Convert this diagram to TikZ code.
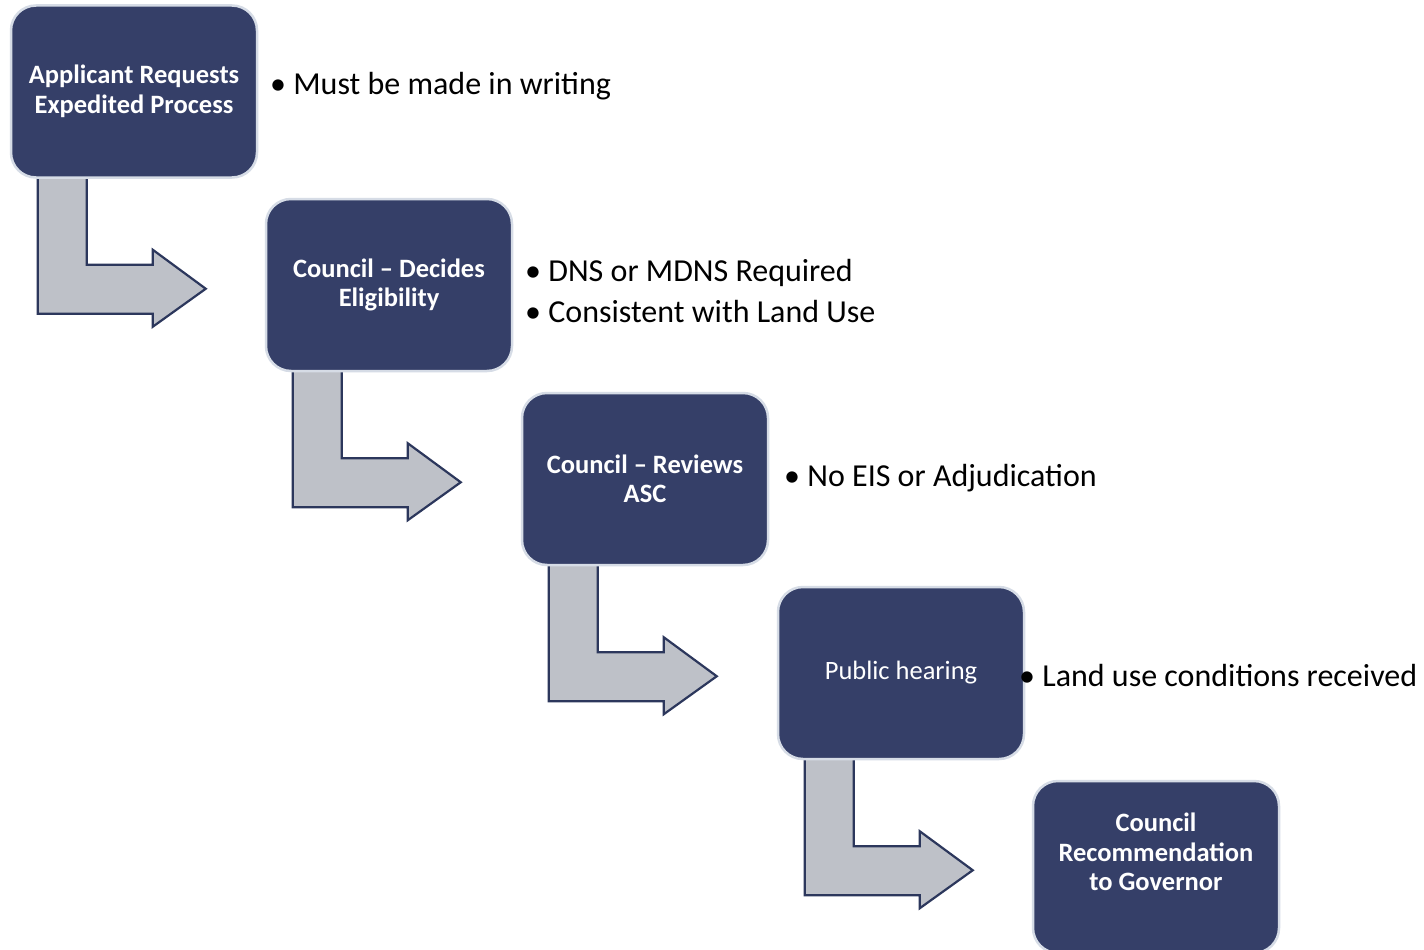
\documentclass[tikz,border=0pt]{standalone}
\usepackage{fontspec}
\setmainfont{Carlito}
\definecolor{boxfill}{HTML}{353F68}
\definecolor{boxedge}{HTML}{D6DCE6}
\definecolor{arrfill}{HTML}{BEC1C8}
\definecolor{arredge}{HTML}{2C375C}
\pgfdeclarelayer{bg}
\pgfsetlayers{bg,main}
\tikzset{
  stepbox/.style={draw=boxedge, line width=2.5pt, fill=boxfill, rounded corners=25pt,
    minimum width=246pt, minimum height=172pt, inner sep=0pt, text=white,
    align=center, font=\fontsize{26.5}{29.5}\selectfont\bfseries},
  boxtext/.style={inner sep=0pt, text=white, align=center,
    font=\fontsize{26.5}{29.5}\selectfont\bfseries},
  bullettext/.style={anchor=base west, inner sep=0pt, font=\fontsize{32}{38}\selectfont},
  bentarrow/.style={draw=arredge, line width=2.2pt, fill=arrfill, line join=miter}
}
\newcommand{\bentarrowat}[1]{%
  \begin{scope}[shift={(#1.south west)}]
    \draw[bentarrow] (28,-2) -- (28,135) -- (143,135) -- (143,148) -- (196,110)
      -- (143,71) -- (143,86) -- (77,86) -- (77,-2);
  \end{scope}}
\begin{document}
\begin{tikzpicture}[x=1pt,y=-1pt]
\useasboundingbox (0,0) rectangle (1424,950);
% boxes
\node[stepbox] (b1) at (134,91.5) {Applicant Requests\\Expedited Process};
\node[stepbox] (b2) at (389,285) {Council -- Decides\\Eligibility};
\node[stepbox] (b3) at (645,479) {Council -- Reviews\\ASC};
\node[stepbox, font=\fontsize{26.5}{29.5}\selectfont] (b4) at (901,673) {Public hearing};
\node[stepbox] (b5) at (1156,867) {};
\node[boxtext] (b5t) at (1156,852) {Council\\Recommendation\\to Governor};
% white page and bent arrows beneath the boxes
\begin{pgfonlayer}{bg}
\fill[white] (0,0) rectangle (1424,950);
\bentarrowat{b1}
\bentarrowat{b2}
\bentarrowat{b3}
\bentarrowat{b4}
\end{pgfonlayer}
% bullet texts
\node[bullettext] (t1) at (270,94) {\textbullet\ Must be made in writing};
\node[bullettext] (t2) at (525,281) {\textbullet\ DNS or MDNS Required};
\node[bullettext] (t3) at (525,322) {\textbullet\ Consistent with Land Use};
\node[bullettext] (t4) at (784,486) {\textbullet\ No EIS or Adjudication};
\node[bullettext] (t5) at (1019,686) {\textbullet\ Land use conditions received};
\end{tikzpicture}
\end{document}
